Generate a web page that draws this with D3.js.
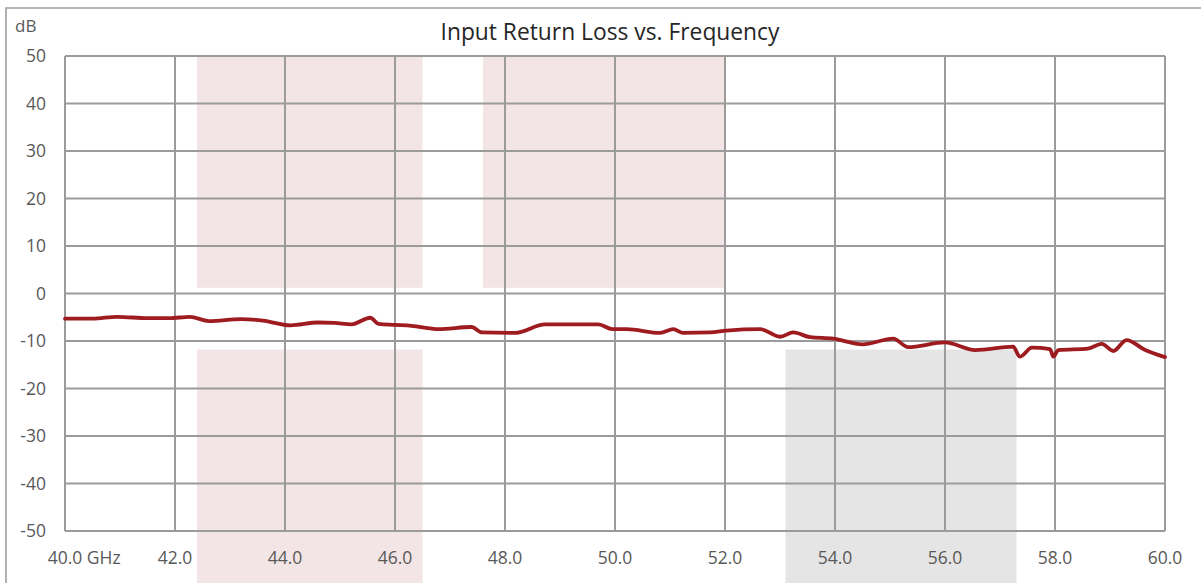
<!DOCTYPE html>
<html>
<head>
<meta charset="utf-8">
<script src="https://cdn.jsdelivr.net/npm/d3@7"></script>
<style>
  html, body { margin: 0; padding: 0; background: #fff; }
  svg { display: block; }
  text { font-family: "Open Sans", Lato, sans-serif; }
</style>
</head>
<body>
<svg id="chart" width="1201" height="583"></svg>
<script>
// ---- data ----
const freqGHz = [40.0, 40.5, 40.95, 41.5, 41.9, 42.27, 42.62, 43.2, 43.6, 44.1, 44.6, 44.9,
  45.21, 45.55, 45.7, 46.0, 46.3, 46.79, 47.39, 47.58, 48.18, 48.73, 49.7, 49.95,
  50.21, 50.82, 51.06, 51.24, 51.73, 52.03, 52.64, 53.0, 53.24, 53.55, 53.97, 54.5,
  55.06, 55.33, 56.0, 56.55, 57.24, 57.36, 57.58, 57.91, 57.97, 58.06, 58.6, 58.85,
  59.06, 59.3, 59.64, 60.0];
const returnLossDb = [-5.3, -5.3, -4.9, -5.2, -5.2, -4.9, -5.8, -5.4, -5.7, -6.7, -6.1, -6.2,
  -6.5, -5.1, -6.4, -6.6, -6.8, -7.5, -7.05, -8.2, -8.3, -6.5, -6.5, -7.5,
  -7.5, -8.3, -7.5, -8.3, -8.2, -7.8, -7.5, -9.1, -8.2, -9.2, -9.5, -10.7,
  -9.5, -11.3, -10.3, -11.9, -11.2, -13.3, -11.4, -11.7, -13.3, -11.9, -11.6, -10.6,
  -12.1, -9.8, -11.9, -13.4];
const xTicks = [40, 42, 44, 46, 48, 50, 52, 54, 56, 58, 60];
const yTicks = [50, 40, 30, 20, 10, 0, -10, -20, -30, -40, -50];
// spec regions
const specF0 = [42.4, 47.6, 42.4, 53.1];
const specF1 = [46.5, 52.0, 46.5, 57.3];
const specTop = [50, 50, -11.8, -11.8];
const specBottom = [1.2, 1.2, -61, -61];
const specKind = ["pink", "pink", "pink", "grey"];

// ---- layout ----
const L = 65, R = 1165, T = 56, B = 531;
const svg = d3.select("#chart");
const x = d3.scaleLinear().domain([40, 60]).range([L, R]);
const y = d3.scaleLinear().domain([-50, 50]).range([B, T]);
const gridColor = "#9b9b9b";

// outer frame
svg.append("path")
  .attr("d", "M6,583 V8 H1201")
  .attr("fill", "none").attr("stroke", "#9e9e9e").attr("stroke-width", 1.6);

// spec regions
const fills = { pink: "#f3e5e5", grey: "#e5e5e5" };
svg.append("g").selectAll("rect").data(specF0.map((d, i) => i)).join("rect")
  .attr("x", i => x(specF0[i]))
  .attr("width", i => x(specF1[i]) - x(specF0[i]))
  .attr("y", i => y(specTop[i]))
  .attr("height", i => y(specBottom[i]) - y(specTop[i]))
  .attr("fill", i => fills[specKind[i]]);

// gridlines
const g = svg.append("g").attr("stroke", gridColor).attr("stroke-width", 2).attr("fill", "none");
g.selectAll(".hx").data(yTicks).join("line")
  .attr("x1", L).attr("x2", R).attr("y1", d => y(d)).attr("y2", d => y(d));
g.selectAll(".vx").data(xTicks).join("line")
  .attr("y1", T).attr("y2", B).attr("x1", d => x(d)).attr("x2", d => x(d));

// y tick labels
svg.append("g").selectAll("text").data(yTicks).join("text")
  .attr("x", 46).attr("y", d => y(d)).attr("dy", "0.35em")
  .attr("text-anchor", "end").attr("font-size", 17.5).attr("fill", "#595959")
  .text(d => d);

// x tick labels
const xl = svg.append("g").selectAll("text").data(xTicks).join("text")
  .attr("x", d => x(d)).attr("y", 564)
  .attr("text-anchor", "middle").attr("font-size", 17.5).attr("fill", "#595959")
  .text(d => d.toFixed(1));
const first = xl.filter((d, i) => i === 0);
const w = first.node().getComputedTextLength();
first.attr("text-anchor", "start").attr("x", x(40) - w / 2).text("40.0 GHz");

// units & title
svg.append("text").attr("x", 15).attr("y", 32).attr("font-size", 17).attr("fill", "#595959").text("dB");
svg.append("text").attr("x", 610).attr("y", 40).attr("text-anchor", "middle")
  .attr("font-size", 22.8).attr("fill", "#262626").text("Input Return Loss vs. Frequency");

// data line
const line = d3.line().x(d => x(d[0])).y(d => y(d[1])).curve(d3.curveMonotoneX);
svg.append("path")
  .datum(freqGHz.map((f, i) => [f, returnLossDb[i]]))
  .attr("d", line).attr("fill", "none")
  .attr("stroke", "#9e1b20").attr("stroke-width", 3.8)
  .attr("stroke-linejoin", "round").attr("stroke-linecap", "round");
</script>
</body>
</html>
